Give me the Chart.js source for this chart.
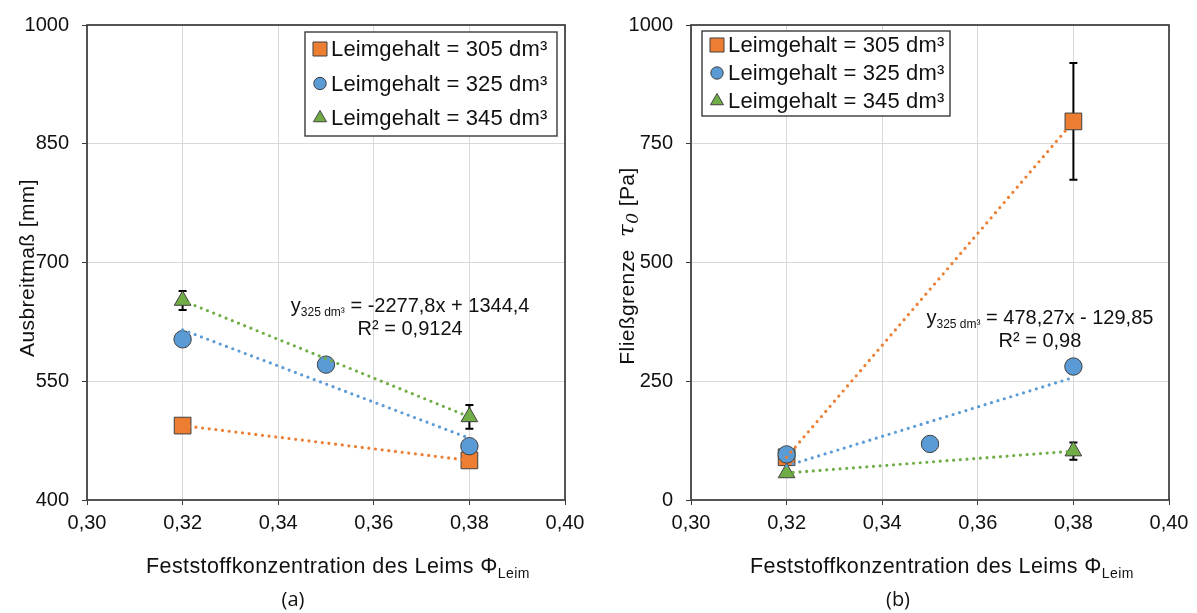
<!DOCTYPE html>
<html>
<head>
<meta charset="utf-8">
<script src="https://cdn.jsdelivr.net/npm/chart.js@4.4.1/dist/chart.umd.min.js"></script>
<style>
  body { margin: 0; background: #fff; width: 1197px; height: 613px; position: relative; overflow: hidden; }
  canvas { position: absolute; top: 0; }
  #chartA { left: 0; }
  #chartB { left: 600px; }
  .caption { position: absolute; top: 585px; font: 20px 'Open Sans', sans-serif; color: #111; transform: translateX(-50%); }
</style>
</head>
<body>
<canvas id="chartA" width="600" height="613"></canvas>
<canvas id="chartB" width="597" height="613"></canvas>
<div class="caption" style="left:293px">(a)</div>
<div class="caption" style="left:898px">(b)</div>
<script>
// Series and axes
const seriesLabels = ['Leimgehalt = 305 dm³', 'Leimgehalt = 325 dm³', 'Leimgehalt = 345 dm³'];
const x305 = [0.32, 0.38];
const x325 = [0.32, 0.35, 0.38];
const x345 = [0.32, 0.38];
const trendX = [0.32, 0.38];
const xTicks = [0.30, 0.32, 0.34, 0.36, 0.38, 0.40];

// (a) Ausbreitmaß [mm]
const spread305 = [494, 450];
const spread325 = [603, 571, 468];
const spread345 = [652, 505];
const spreadErr305 = [0, 0];
const spreadErr325 = [0, 0, 0];
const spreadErr345 = [12, 15];
const spreadTrend305 = [494, 450];
const spreadTrend325 = [615, 478];
const spreadTrend345 = [652, 505];
const spreadTicks = [400, 550, 700, 850, 1000];

// (b) Fließgrenze tau0 [Pa]
const yield305 = [90, 797];
const yield325 = [96, 118, 281];
const yield345 = [57, 103];
const yieldErr305 = [0, 123];
const yieldErr325 = [0, 0, 0];
const yieldErr345 = [0, 18];
const yieldTrend305 = [90, 797];
const yieldTrend325 = [72, 258];
const yieldTrend345 = [57, 103];
const yieldTicks = [0, 250, 500, 750, 1000];

const FONT = "'Liberation Sans', Arial, sans-serif";
const TEXT = '#111';
const seriesColors = ['#ED7D31', '#5B9BD5', '#70AD47'];
const markerStyles = ['rect', 'circle', 'triangle'];
const markerRadius = [11.8, 8.7, 9.6];

function fmtX(v) {
    return v.toFixed(2).replace('.', ',');
}

function toPoints(xs, ys) {
    return xs.map((x, i) => ({ x: x, y: ys[i] }));
}

function buildDatasets(xs, values, errors, trends) {
    const sets = [];
    for (let i = 0; i < 3; i++) {
        sets.push({
            label: seriesLabels[i],
            data: toPoints(xs[i], values[i]),
            errors: errors[i],
            pointStyle: markerStyles[i],
            pointRadius: markerRadius[i],
            pointHoverRadius: markerRadius[i],
            pointBackgroundColor: seriesColors[i],
            pointBorderColor: '#404040',
            pointBorderWidth: 1,
            showLine: false,
            order: 3 - i
        });
    }
    for (let i = 0; i < 3; i++) {
        sets.push({
            label: 'Trend ' + seriesLabels[i],
            isTrend: true,
            data: toPoints(trendX, trends[i]),
            showLine: true,
            pointRadius: 0,
            borderColor: seriesColors[i],
            borderWidth: 3.2,
            borderDash: [0, 6.7],
            borderCapStyle: 'round',
            order: 0
        });
    }
    return sets;
}

// draw text pieces one after another (for sub-/superscripts)
function drawRuns(ctx, runs, x, y, align) {
    let total = 0;
    runs.forEach(r => { ctx.font = r.font; total += ctx.measureText(r.text).width; });
    let cx = align === 'center' ? x - total / 2 : x;
    runs.forEach(r => {
        ctx.font = r.font;
        ctx.fillText(r.text, cx, y + (r.dy || 0));
        cx += ctx.measureText(r.text).width;
    });
}

// plot frame and error bars, under the markers
const frameAndErrors = {
    id: 'frameAndErrors',
    beforeDatasetsDraw(chart) {
        const ctx = chart.ctx;
        const a = chart.chartArea;
        const ys = chart.scales.y;
        ctx.save();
        ctx.strokeStyle = '#3a3a3a';
        ctx.lineWidth = 1.7;
        ctx.strokeRect(a.left, a.top, a.right - a.left, a.bottom - a.top);

        ctx.strokeStyle = '#000';
        ctx.lineWidth = 2;
        chart.data.datasets.forEach((d, di) => {
            if (!d.errors) return;
            const meta = chart.getDatasetMeta(di);
            d.data.forEach((p, i) => {
                const e = d.errors[i];
                if (!e) return;
                const px = meta.data[i].x;
                const top = ys.getPixelForValue(p.y + e);
                const bot = ys.getPixelForValue(p.y - e);
                ctx.beginPath();
                ctx.moveTo(px, top); ctx.lineTo(px, bot);
                ctx.moveTo(px - 4, top); ctx.lineTo(px + 4, top);
                ctx.moveTo(px - 4, bot); ctx.lineTo(px + 4, bot);
                ctx.stroke();
            });
        });
        ctx.restore();
    }
};

// axis titles, trend equation and the boxed legend
const annotations = {
    id: 'annotations',
    afterDraw(chart, args, o) {
        const ctx = chart.ctx;
        const a = chart.chartArea;
        const xs = chart.scales.x;
        const ys = chart.scales.y;
        ctx.save();
        ctx.fillStyle = TEXT;
        ctx.textBaseline = 'alphabetic';

        // y title
        ctx.save();
        ctx.translate(o.yTitleX, o.yTitleY);
        ctx.rotate(-Math.PI / 2);
        ctx.letterSpacing = '0.4px';
        drawRuns(ctx, o.yTitle, 0, 7, 'center');
        ctx.restore();

        // x title
        ctx.save();
        ctx.letterSpacing = '0.4px';
        drawRuns(ctx, [
            { text: 'Feststoffkonzentration des Leims Φ', font: `21.5px ${FONT}` },
            { text: 'Leim', font: `14px ${FONT}`, dy: 5 }
        ], a.left + 59, 573, 'left');
        ctx.restore();

        // trend equation
        const ex = xs.getPixelForValue(o.eqX);
        drawRuns(ctx, [
            { text: 'y', font: `20px ${FONT}` },
            { text: '325 dm³', font: `12px ${FONT}`, dy: 4 },
            { text: o.eqText, font: `20px ${FONT}` }
        ], ex, ys.getPixelForValue(o.eqY1), 'center');
        drawRuns(ctx, [{ text: o.r2Text, font: `20px ${FONT}` }], ex, ys.getPixelForValue(o.eqY2), 'center');

        // legend box
        const L = o.legend;
        ctx.fillStyle = '#fff';
        ctx.fillRect(L.left, L.top, L.width, L.height);
        ctx.strokeStyle = '#3a3a3a';
        ctx.lineWidth = 1.4;
        ctx.strokeRect(L.left, L.top, L.width, L.height);
        ctx.textBaseline = 'middle';
        ctx.font = `22px ${FONT}`;
        ctx.letterSpacing = '0.15px';
        chart.data.datasets.filter(d => !d.isTrend).forEach((d, i) => {
            const y = L.top + L.firstRow + i * L.rowGap;
            ctx.fillStyle = d.pointBackgroundColor;
            ctx.strokeStyle = d.pointBorderColor;
            ctx.lineWidth = 1;
            Chart.helpers.drawPoint(ctx, { pointStyle: d.pointStyle, radius: L.markerR[i], borderWidth: 1, rotation: 0 }, L.left + L.markerDx, y);
            ctx.fillStyle = TEXT;
            ctx.fillText(d.label, L.left + L.textDx, y + 1);
        });
        ctx.restore();
    }
};

function makeChart(canvasId, datasets, yTicks, yAxisWidth, padRight, notes) {
    return new Chart(document.getElementById(canvasId), {
        type: 'scatter',
        data: { datasets: datasets },
        options: {
            responsive: false,
            animation: false,
            events: [],
            layout: { padding: { left: 0, right: padRight, top: 20, bottom: 0 } },
            plugins: {
                legend: { display: false },
                tooltip: { enabled: false },
                annotations: notes
            },
            scales: {
                x: {
                    type: 'linear',
                    min: xTicks[0],
                    max: xTicks[xTicks.length - 1],
                    afterBuildTicks: s => { s.ticks = xTicks.map(v => ({ value: v })); },
                    ticks: { callback: v => fmtX(v), font: { family: FONT, size: 20 }, color: TEXT, padding: 6, maxRotation: 0 },
                    grid: { color: '#d9d9d9', lineWidth: 1, tickLength: 5, tickColor: '#3a3a3a' },
                    border: { display: false },
                    afterFit: s => { s.height = 113; }
                },
                y: {
                    type: 'linear',
                    min: yTicks[0],
                    max: yTicks[yTicks.length - 1],
                    afterBuildTicks: s => { s.ticks = yTicks.map(v => ({ value: v })); },
                    ticks: { callback: v => String(v), font: { family: FONT, size: 20 }, color: TEXT, padding: 13 },
                    grid: { color: '#d9d9d9', lineWidth: 1, tickLength: 5, tickColor: '#3a3a3a' },
                    border: { display: false },
                    afterFit: s => { s.width = yAxisWidth; }
                }
            }
        },
        plugins: [frameAndErrors, annotations]
    });
}

document.addEventListener('DOMContentLoaded', function() {
    makeChart('chartA',
        buildDatasets([x305, x325, x345],
            [spread305, spread325, spread345],
            [spreadErr305, spreadErr325, spreadErr345],
            [spreadTrend305, spreadTrend325, spreadTrend345]),
        spreadTicks, 87, 35,
        {
            yTitle: [{ text: 'Ausbreitmaß [mm]', font: `21px ${FONT}` }],
            yTitleX: 27, yTitleY: 268,
            eqX: 0.3676, eqY1: 637, eqY2: 608,
            eqText: ' = -2277,8x + 1344,4', r2Text: 'R² = 0,9124',
            legend: { left: 305, top: 32, width: 252, height: 104, firstRow: 17, rowGap: 34.5, markerDx: 15, textDx: 26, markerR: [9.9, 6.2, 7.5] }
        });

    makeChart('chartB',
        buildDatasets([x305, x325, x345],
            [yield305, yield325, yield345],
            [yieldErr305, yieldErr325, yieldErr345],
            [yieldTrend305, yieldTrend325, yieldTrend345]),
        yieldTicks, 91, 28,
        {
            yTitle: [
                { text: 'Fließgrenze  ', font: `21px ${FONT}` },
                { text: 'τ', font: `italic 23px 'DejaVu Serif', serif` },
                { text: '0', font: `italic 17px 'DejaVu Serif', serif`, dy: 4 },
                { text: ' [Pa]', font: `21px ${FONT}` }
            ],
            yTitleX: 27, yTitleY: 266,
            eqX: 0.373, eqY1: 371, eqY2: 323,
            eqText: ' = 478,27x - 129,85', r2Text: 'R² = 0,98',
            legend: { left: 102, top: 31, width: 248, height: 85, firstRow: 14, rowGap: 28, markerDx: 15, textDx: 26, markerR: [9.9, 6.2, 7.5] }
        });
});
</script>
</body>
</html>
